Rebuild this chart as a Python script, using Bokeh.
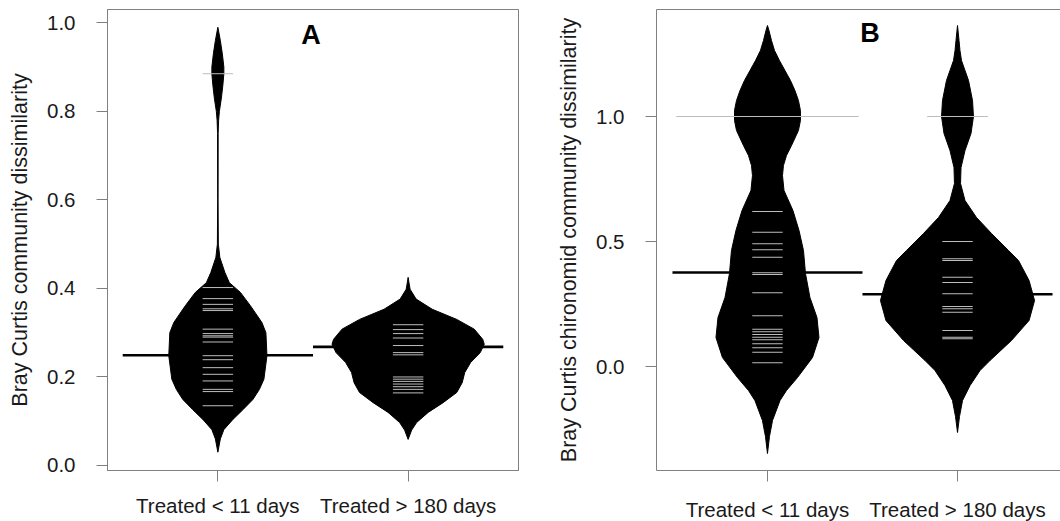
from collections import Counter
from bokeh.plotting import figure
from bokeh.layouts import row
from bokeh.models import Range1d, FixedTicker, Label, LinearAxis, NumeralTickFormatter
from bokeh.embed import file_html
from bokeh.resources import INLINE

groups = ["Treated < 11 days", "Treated > 180 days"]
group_pos = [1, 2]

# ---------------- Panel A : Bray Curtis community dissimilarity ----------------
a_short_obs = [0.885, 0.402, 0.377, 0.364, 0.354, 0.350, 0.308, 0.298, 0.293, 0.290,
               0.279, 0.248, 0.239, 0.221, 0.206, 0.191, 0.172, 0.167, 0.135]
a_long_obs = [0.318, 0.307, 0.298, 0.288, 0.271, 0.255, 0.250, 0.200, 0.195, 0.190,
              0.184, 0.178, 0.172, 0.164]
a_average = [0.249, 0.268]
# bean outline (density): level -> full bean width (category units)
a_short_lvl = [0.99, 0.96, 0.93, 0.90, 0.885, 0.86, 0.83, 0.80, 0.78, 0.75, 0.60, 0.50, 0.47,
               0.436, 0.413, 0.391, 0.361, 0.323, 0.30, 0.248, 0.195, 0.172, 0.149, 0.126,
               0.104, 0.081, 0.06, 0.03]
a_short_wid = [0.0, 0.026, 0.047, 0.063, 0.063, 0.053, 0.037, 0.016, 0.008, 0.003, 0.002, 0.005,
               0.021, 0.074, 0.121, 0.237, 0.342, 0.463, 0.505, 0.516, 0.484, 0.437, 0.368,
               0.263, 0.158, 0.063, 0.026, 0.0]
a_long_lvl = [0.425, 0.41, 0.398, 0.376, 0.353, 0.330, 0.308, 0.285, 0.274, 0.255, 0.233, 0.21,
              0.187, 0.165, 0.142, 0.12, 0.097, 0.08, 0.059]
a_long_wid = [0.0, 0.011, 0.021, 0.084, 0.253, 0.511, 0.695, 0.784, 0.80, 0.758, 0.658, 0.595,
              0.568, 0.511, 0.368, 0.211, 0.089, 0.037, 0.0]

# ---------------- Panel B : Bray Curtis chironomid community dissimilarity ----------------
b_short_obs = [1.0, 1.0, 1.0, 1.0, 1.0, 1.0, 0.620, 0.537, 0.491, 0.467, 0.437, 0.375,
               0.368, 0.295, 0.203, 0.149, 0.139, 0.128, 0.117, 0.107, 0.091, 0.075, 0.057, 0.015]
b_long_obs = [1.0, 1.0, 0.500, 0.431, 0.424, 0.357, 0.336, 0.291, 0.240, 0.231, 0.217,
              0.144, 0.117, 0.111]
b_average = [0.376, 0.289]
b_short_lvl = [1.364, 1.344, 1.304, 1.264, 1.224, 1.184, 1.144, 1.104, 1.064, 1.024, 0.984,
               0.944, 0.884, 0.844, 0.804, 0.764, 0.704, 0.624, 0.544, 0.464, 0.372, 0.276,
               0.196, 0.116, 0.036, -0.044, -0.096, -0.136, -0.216, -0.28, -0.348]
b_short_wid = [0.0, 0.016, 0.042, 0.074, 0.126, 0.184, 0.242, 0.289, 0.326, 0.347, 0.347,
               0.326, 0.253, 0.200, 0.168, 0.158, 0.174, 0.268, 0.332, 0.379, 0.400, 0.447,
               0.521, 0.542, 0.474, 0.316, 0.200, 0.132, 0.053, 0.021, 0.0]
b_long_lvl = [1.364, 1.304, 1.264, 1.224, 1.144, 1.064, 1.0, 0.932, 0.864, 0.796, 0.732, 0.664,
              0.596, 0.532, 0.464, 0.424, 0.344, 0.264, 0.184, 0.104, 0.024, -0.016, -0.076,
              -0.136, -0.2, -0.264]
b_long_wid = [0.0, 0.016, 0.026, 0.042, 0.116, 0.158, 0.168, 0.142, 0.079, 0.037, 0.032, 0.079,
              0.200, 0.358, 0.537, 0.642, 0.753, 0.811, 0.753, 0.568, 0.342, 0.237, 0.132,
              0.053, 0.021, 0.0]

FONT = "Liberation Sans"
BOX = "#808080"
TXT = "#1a1a1a"


def style_axes(p, ylabel, yticks, xstandoff):
    p.xgrid.visible = False
    p.ygrid.visible = False
    xa = p.below[0]
    ya = p.left[0]
    xa.ticker = FixedTicker(ticks=group_pos)
    xa.major_label_overrides = {pos: g for pos, g in zip(group_pos, groups)}
    ya.ticker = FixedTicker(ticks=yticks)
    ya.formatter = NumeralTickFormatter(format="0.0")
    ya.axis_label = ylabel
    for ax in (xa, ya):
        ax.major_tick_out = 11
        ax.major_tick_in = 0
        ax.minor_tick_out = 0
        ax.minor_tick_in = 0
        ax.major_tick_line_color = BOX
        ax.axis_line_color = BOX
        ax.major_label_text_font = FONT
        ax.major_label_text_font_size = "20.5px"
        ax.major_label_text_color = TXT
        ax.major_label_standoff = 21
        ax.axis_label_text_font = FONT
        ax.axis_label_text_font_size = "21.5px"
        ax.axis_label_text_font_style = "normal"
        ax.axis_label_text_color = TXT
        ax.axis_label_standoff = 12
    xa.major_label_standoff = xstandoff


def draw_beans(p, obs_groups, averages, lvls, wids):
    for c, obs, avg, lvl, wid in zip(group_pos, obs_groups, averages, lvls, wids):
        xs = [c - w / 2 for w in wid] + [c + w / 2 for w in reversed(wid)]
        ys = list(lvl) + list(reversed(lvl))
        p.patch(xs, ys, fill_color="black", line_color="black", line_width=1)
        p.segment(x0=[c - 0.5], y0=[avg], x1=[c + 0.5], y1=[avg],
                  line_color="black", line_width=2.6)
        cnt = Counter(obs)
        vals = sorted(cnt)
        p.segment(x0=[c - 0.08 * cnt[v] for v in vals], y0=vals,
                  x1=[c + 0.08 * cnt[v] for v in vals], y1=vals,
                  line_color="#bdbdbd", line_width=1)


# ---------------- figure A ----------------
pa = figure(frame_width=411, frame_height=461,
            x_range=Range1d(0.42, 2.58), y_range=Range1d(-0.0113, 1.0301),
            output_backend="svg", toolbar_location=None,
            min_border_left=107, min_border_right=10, min_border_top=7, min_border_bottom=0)
pa.outline_line_color = BOX
pa.outline_line_width = 1
style_axes(pa, "Bray Curtis community dissimilarity", [0.0, 0.2, 0.4, 0.6, 0.8, 1.0], 12)
draw_beans(pa, [a_short_obs, a_long_obs], a_average, [a_short_lvl, a_long_lvl],
           [a_short_wid, a_long_wid])
pa.add_layout(Label(x=1.49, y=0.973, text="A", text_font=FONT, text_font_style="bold",
                    text_font_size="27px", text_align="center", text_baseline="alphabetic",
                    text_color="black"))

# ---------------- figure B ----------------
pb = figure(frame_width=404, frame_height=461,
            x_range=Range1d(0.416, 2.542), y_range=Range1d(-0.416, 1.428),
            output_backend="svg", toolbar_location=None,
            min_border_left=128, min_border_right=0, min_border_top=9, min_border_bottom=0)
pb.outline_line_color = None
style_axes(pb, "Bray Curtis chironomid community dissimilarity", [0.0, 0.5, 1.0], 16)
top = LinearAxis(ticker=FixedTicker(ticks=[]), major_tick_out=0, major_tick_in=0,
                 minor_tick_out=0, minor_tick_in=0, major_label_standoff=0,
                 axis_line_color=BOX)
pb.add_layout(top, "above")
draw_beans(pb, [b_short_obs, b_long_obs], b_average, [b_short_lvl, b_long_lvl],
           [b_short_wid, b_long_wid])
pb.add_layout(Label(x=1.54, y=1.334, text="B", text_font=FONT, text_font_style="bold",
                    text_font_size="27px", text_align="center", text_baseline="alphabetic",
                    text_color="black"))

layout = row(pa, pb)
open("out.html", "w").write(file_html(layout, INLINE))
